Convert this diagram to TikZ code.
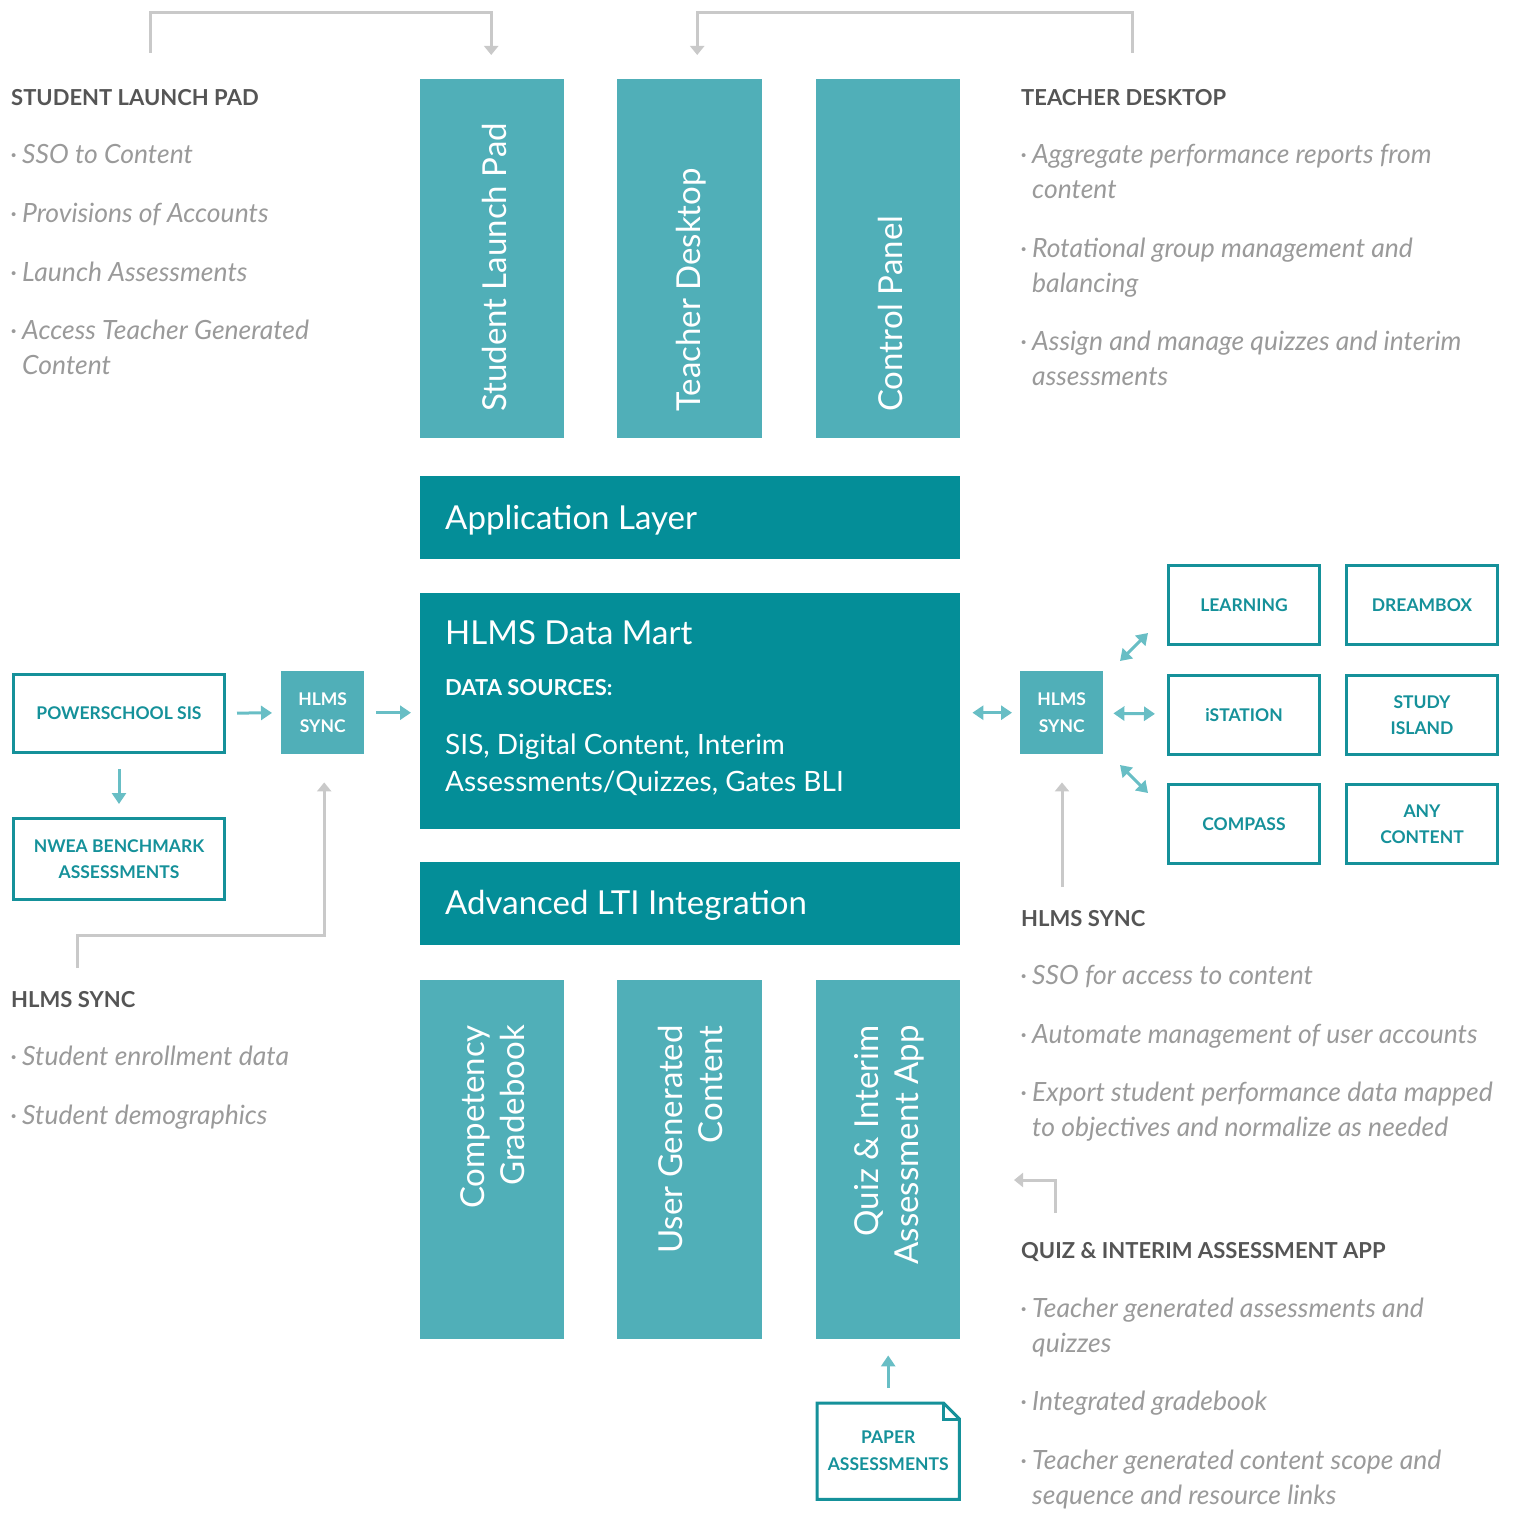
\documentclass[tikz,border=0pt]{standalone}
\usepackage{fontspec}
\setmainfont{Lato}
\usetikzlibrary{arrows.meta}
\definecolor{dteal}{HTML}{048E98}
\definecolor{lteal}{HTML}{50AFB8}
\definecolor{bteal}{HTML}{15919A}
\definecolor{ateal}{HTML}{68BEC5}
\definecolor{lgray}{HTML}{C9C9C9}
\definecolor{headc}{HTML}{555555}
\definecolor{itemc}{HTML}{9A9A9A}
\newcommand{\bul}{\makebox[0pt][r]{\textperiodcentered\hspace{5pt}}}
\begin{document}
\begin{tikzpicture}[x=1pt,y=-1pt,
  lbox/.style={fill=lteal, draw=none, inner sep=0, anchor=north west},
  dbox/.style={fill=dteal, draw=none, inner sep=0, anchor=north west},
  obox/.style={draw=bteal, line width=3pt, fill=white, inner sep=0, anchor=north west, minimum width=211pt, minimum height=78pt, text=bteal, font=\fontsize{17.5}{26}\selectfont\bfseries, align=center},
  cbox/.style={draw=bteal, line width=3pt, fill=white, inner sep=0, anchor=north west, minimum width=151pt, minimum height=79pt, text=bteal, font=\fontsize{17.5}{26}\selectfont\bfseries, align=center},
  sbox/.style={fill=lteal, inner sep=0, anchor=north west, minimum width=83pt, minimum height=83pt, text=white, font=\fontsize{17.5}{27}\selectfont\bfseries, align=center},
  vtext/.style={rotate=90, inner sep=0, text=white, font=\fontsize{33}{40}\selectfont},
  btext/.style={inner sep=0, anchor=base west, text=white},
  head/.style={anchor=base west, inner sep=0, font=\fontsize{22}{24}\selectfont\bfseries, text=headc},
  item/.style={anchor=base west, inner sep=0, align=left, font=\fontsize{26.5}{35}\selectfont\itshape, text=itemc},
  tarrow/.style={draw=ateal, line width=3pt, -{Triangle[width=14pt,length=11pt]}},
  tdarrow/.style={draw=ateal, line width=3pt, {Triangle[width=14pt,length=11pt]}-{Triangle[width=14pt,length=11pt]}},
  garrow/.style={draw=lgray, line width=3pt, -{Triangle[width=14pt,length=9pt]}},
  gline/.style={draw=lgray, line width=3pt}
]
\useasboundingbox (0,0) rectangle (1522,1512);

% top vertical boxes
\node[lbox, minimum width=144pt, minimum height=359pt] (slp) at (420,79) {};
\node[lbox, minimum width=145pt, minimum height=359pt] (td) at (617,79) {};
\node[lbox, minimum width=144pt, minimum height=359pt] (cp) at (816,79) {};
\node[vtext, anchor=west] (slpt) at (494,412) {Student Launch Pad};
\node[vtext, anchor=west] (tdt) at (691,412) {Teacher Desktop};
\node[vtext, anchor=west] (cpt) at (890,412) {Control Panel};

% horizontal layers
\node[dbox, minimum width=540pt, minimum height=83pt] (al) at (420,476) {};
\node[btext, font=\fontsize{33}{36}\selectfont] (alt) at (445,529) {Application Layer};
\node[dbox, minimum width=540pt, minimum height=236pt] (dm) at (420,593) {};
\node[btext, font=\fontsize{33}{36}\selectfont] (dmt) at (445,644) {HLMS Data Mart};
\node[btext, font=\fontsize{22}{24}\selectfont\bfseries] (dms) at (445,695) {DATA SOURCES:};
\node[btext, font=\fontsize{28}{37}\selectfont, align=left] (dmx) at (445,791) {SIS, Digital Content, Interim\\Assessments/Quizzes, Gates BLI};
\node[dbox, minimum width=540pt, minimum height=83pt] (lti) at (420,862) {};
\node[btext, font=\fontsize{33}{36}\selectfont] (ltit) at (445,914) {Advanced LTI Integration};

% bottom vertical boxes
\node[lbox, minimum width=144pt, minimum height=359pt] (cg) at (420,980) {};
\node[lbox, minimum width=145pt, minimum height=359pt] (ug) at (617,980) {};
\node[lbox, minimum width=144pt, minimum height=359pt] (qz) at (816,980) {};
\node[vtext, anchor=east, align=right] (cgt) at (493,1025) {Competency\\Gradebook};
\node[vtext, anchor=east, align=right] (ugt) at (690,1025) {User Generated\\Content};
\node[vtext, anchor=east, align=right] (qzt) at (889,1025) {Quiz \& Interim\\Assessment App};

% paper assessments
\node[inner sep=0, anchor=north west, minimum width=142pt, minimum height=96pt, text=bteal, font=\fontsize{17.5}{27}\selectfont\bfseries, align=center] (pa) at (817,1403) {PAPER\\ASSESSMENTS};
\draw[bteal, line width=3pt, line join=miter] (pa.north west) -- ([xshift=-16pt]pa.north east) -- ([yshift=-16pt]pa.north east) -- (pa.south east) -- (pa.south west) -- cycle;
\draw[bteal, line width=3pt] ([xshift=-16pt]pa.north east) -- ([xshift=-16pt,yshift=-16pt]pa.north east) -- ([yshift=-16pt]pa.north east);
\draw[tarrow, shorten <=15pt, shorten >=16pt] (pa.north) -- (qz.south);

% left side
\node[obox] (ps) at (12,673) {POWERSCHOOL SIS};
\node[obox, minimum height=81pt] (nw) at (12,817) {NWEA BENCHMARK\\ASSESSMENTS};
\node[sbox] (ls) at (281,671) {HLMS\\SYNC};
\draw[tarrow, shorten <=11pt, shorten >=9pt] (ps) -- (ls);
\draw[tarrow, shorten <=12pt, shorten >=9pt] (ls) -- (ls -| dm.west);
\draw[tarrow, shorten <=15pt, shorten >=13pt] (ps) -- (nw);
\coordinate (lg0) at (77,968);
\coordinate (lg1) at (77,935);
\draw[garrow, shorten >=28pt] (lg0) -- (lg1) -| ([xshift=1.5pt]ls.south);

% right side
\node[sbox] (rs) at (1020,671) {HLMS\\SYNC};
\node[cbox] (le) at (1167,564) {LEARNING};
\node[cbox] (db) at (1345,564) {DREAMBOX};
\node[cbox] (is) at (1167,674) {iSTATION};
\node[cbox] (si) at (1345,674) {STUDY\\ISLAND};
\node[cbox] (co) at (1167,783) {COMPASS};
\node[cbox] (an) at (1345,783) {ANY\\CONTENT};
\draw[tdarrow, shorten <=12pt, shorten >=8pt] (rs -| dm.east) -- (rs);
\draw[tdarrow, shorten <=10pt, shorten >=12pt] (rs) -- (is);
\coordinate (d1a) at (1120,661);
\coordinate (d1b) at (1148,633);
\coordinate (d2a) at (1120,765);
\coordinate (d2b) at (1148,793);
\draw[tdarrow] (d1a) -- (d1b);
\draw[tdarrow] (d2a) -- (d2b);
\coordinate (rg0) at (1062,887);
\draw[garrow, shorten >=28pt] (rg0) -- (rg0 |- rs.south);

% top gray connectors
\coordinate (g1s) at (150,53);
\coordinate (g1t) at (150,13);
\draw[garrow, shorten >=24pt] (g1s) -- (g1t) -| ([xshift=-1pt]slp.north);
\coordinate (g2s) at (1132,53);
\coordinate (g2t) at (1132,13);
\draw[garrow, shorten >=24pt] (g2s) -- (g2t) -| ([xshift=7.5pt]td.north);

% quiz elbow
\coordinate (q0) at (1055,1213);
\coordinate (q1) at (1055,1180);
\coordinate (q2) at (1014,1180);
\draw[garrow] (q0) -- (q1) -- (q2);

% left texts
\node[head] (h1) at (11,105) {STUDENT LAUNCH PAD};
\node[item] (s1) at (22,163) {\bul SSO to Content};
\node[item] (s2) at (22,222) {\bul Provisions of Accounts};
\node[item] (s3) at (22,281) {\bul Launch Assessments};
\node[item] (s4) at (22,374) {\bul Access Teacher Generated\\Content};
\node[head] (h2) at (11,1007) {HLMS SYNC};
\node[item] (l1) at (22,1065) {\bul Student enrollment data};
\node[item] (l2) at (22,1124) {\bul Student demographics};

% right texts
\node[head] (h3) at (1021,105) {TEACHER DESKTOP};
\node[item] (t1) at (1032,198) {\bul Aggregate performance reports from\\content};
\node[item] (t2) at (1032,292) {\bul Rotational group management and\\balancing};
\node[item] (t3) at (1032,385) {\bul Assign and manage quizzes and interim\\assessments};
\node[head] (h4) at (1021,926) {HLMS SYNC};
\node[item] (r1) at (1032,984) {\bul SSO for access to content};
\node[item] (r2) at (1032,1043) {\bul Automate management of user accounts};
\node[item] (r3) at (1032,1136) {\bul Export student performance data mapped\\to objectives and normalize as needed};
\node[head] (h5) at (1021,1258) {QUIZ \& INTERIM ASSESSMENT APP};
\node[item] (q1t) at (1032,1352) {\bul Teacher generated assessments and\\quizzes};
\node[item] (q2t) at (1032,1410) {\bul Integrated gradebook};
\node[item] (q3t) at (1032,1504) {\bul Teacher generated content scope and\\sequence and resource links};
\end{tikzpicture}
\end{document}
